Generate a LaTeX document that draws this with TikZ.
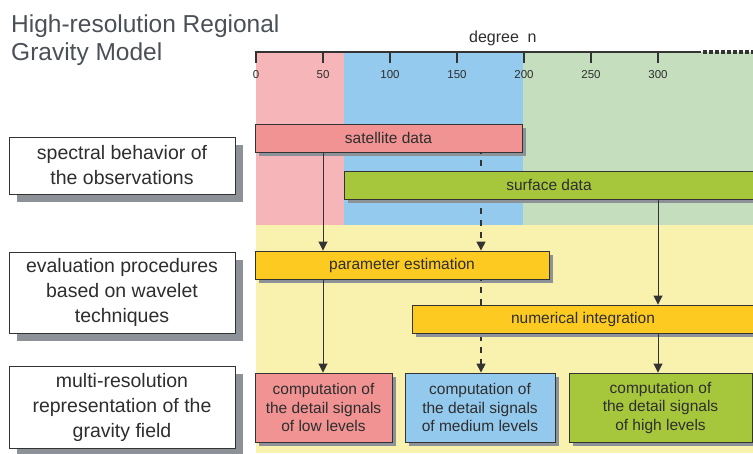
\documentclass[tikz,border=0pt]{standalone}
\usepackage{fontspec}
\setmainfont{Liberation Sans}
\usetikzlibrary{arrows.meta,shadows}
\definecolor{bandpink}{HTML}{F6B6B9}
\definecolor{bandblue}{HTML}{93CAED}
\definecolor{bandgreen}{HTML}{C5DFBE}
\definecolor{bgyellow}{HTML}{F8F2AE}
\definecolor{boxpink}{HTML}{F19393}
\definecolor{boxgreen}{HTML}{A6C73C}
\definecolor{boxorange}{HTML}{FDCA22}
\definecolor{boxblue}{HTML}{94C9EE}
\definecolor{shadowgray}{HTML}{8C9298}
\definecolor{txt}{HTML}{2E2E2E}
\definecolor{titlegray}{HTML}{4A5055}
\definecolor{linegray}{HTML}{333333}
\tikzset{
  cbox/.style={draw=linegray, line width=0.9pt, inner sep=0pt, text=txt,
    font=\fontsize{15.5}{18.5}\selectfont, align=center,
    drop shadow={shadow xshift=3.5pt, shadow yshift=-3.5pt, fill=shadowgray, opacity=1}},
  lbox/.style={draw=linegray, line width=0.9pt, fill=white, inner sep=0pt, text=txt,
    font=\fontsize{19.5}{25}\selectfont, align=center, minimum width=226pt,
    drop shadow={shadow xshift=7.5pt, shadow yshift=-8pt, fill=shadowgray, opacity=1}},
  conn/.style={line width=0.9pt, draw=linegray, -{Triangle[length=9pt,width=9pt]}},
  dconn/.style={conn, line width=1.6pt, dash pattern=on 6pt off 6pt, dash phase=-8pt},
  ticklbl/.style={font=\fontsize{11.5}{13}\selectfont, text=txt, inner sep=0pt},
  deglbl/.style={anchor=base west, font=\fontsize{16}{18}\selectfont, text=txt, inner sep=0pt},
}
\begin{document}
\begin{tikzpicture}[x=1pt,y=-1pt]
\useasboundingbox (0,0) rectangle (753,453);
% background bands
\fill[bandpink] (256,52) rectangle (344,225);
\fill[bandblue] (344,52) rectangle (523,225);
\fill[bandgreen] (523,52) rectangle (753,225);
\fill[bgyellow] (256,225) rectangle (753,453);
% title
\node[anchor=base west, inner sep=0pt, text=titlegray, font=\fontsize{24.5}{28}\selectfont] (t1) at (11,32) {High-resolution Regional};
\node[anchor=base west, inner sep=0pt, text=titlegray, font=\fontsize{24.5}{28}\selectfont] (t2) at (11,60) {Gravity Model};
% axis
\draw[line width=1.8pt, draw=linegray] (256,52) -- (701,52);
\draw[line width=3.5pt, draw=linegray, dash pattern=on 3.5pt off 2.5pt] (703,52) -- (753,52);
\foreach \n in {0,50,...,300} {
  \draw[line width=1.4pt, draw=linegray] ({256+1.34*\n},51) -- ({256+1.34*\n},63);
  \node[ticklbl] at ({256+1.34*\n},75) {\n};
}
\node[deglbl] (deg) at (469,42) {degree};
\node[deglbl] (degn) at (527.5,42) {n};
% left boxes
\node[lbox, minimum height=57pt] (spec) at (122,165.5) {spectral behavior of\\the observations};
\node[lbox, minimum height=81pt] (eval) at (122,292.5) {evaluation procedures\\based on wavelet\\techniques};
\node[lbox, minimum height=82pt] (multi) at (122,407) {multi-resolution\\representation of the\\gravity field};
% data boxes
\node[cbox, fill=boxpink, minimum width=267pt, minimum height=28pt] (sat) at (388.5,138) {satellite data};
\coordinate (satA) at (323,152);
\coordinate (satB) at (481,152);
\node[cbox, fill=boxorange, minimum width=294pt, minimum height=28pt] (par) at (402,265) {parameter estimation};
% dashed connector behind surface data
\draw[dconn] (satB) -- (satB |- par.north);
\node[cbox, fill=boxgreen, minimum width=410pt, minimum height=28pt] (surf) at (549,185) {surface data};
\coordinate (parB) at (481,279);
\node[cbox, fill=boxblue, minimum width=150pt, minimum height=69pt] (med) at (480,407.5) {computation of\\the detail signals\\of medium levels};
\draw[dconn] (parB) -- (parB |- med.north);
\node[cbox, fill=boxorange, minimum width=342pt, minimum height=28pt] (num) at (583,319) {numerical integration};
% result boxes
\node[cbox, fill=boxpink, minimum width=137pt, minimum height=69pt] (low) at (323.5,407.5) {computation of\\the detail signals\\of low levels};
\node[cbox, fill=boxgreen, minimum width=183pt, minimum height=69pt] (high) at (660.5,407.5) {computation of\\the detail signals\\of high levels};
% solid connectors
\draw[conn] (satA) -- (satA |- par.north);
\draw[conn] (satA |- par.south) -- (satA |- low.north);
\coordinate (surfC) at (658,199);
\draw[conn] (surfC) -- (surfC |- num.north);
\draw[conn] (surfC |- num.south) -- (surfC |- high.north);
\end{tikzpicture}
\end{document}
